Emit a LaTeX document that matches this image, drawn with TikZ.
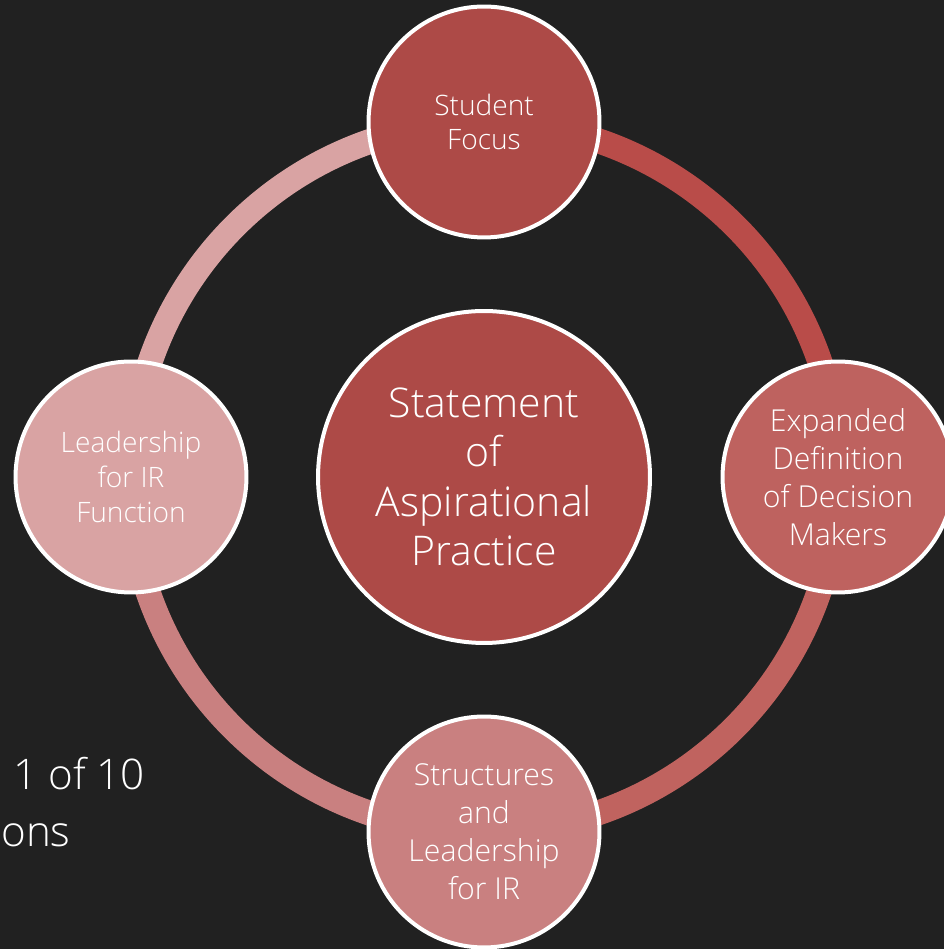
\documentclass[tikz,border=0pt]{standalone}
\usepackage{fontspec}
\setmainfont{Open Sans}[UprightFont=* Light]
\usetikzlibrary{positioning}

\definecolor{slidebg}{HTML}{212121}
\definecolor{redA}{HTML}{AD4A47}
\definecolor{redB}{HTML}{BE625F}
\definecolor{redC}{HTML}{C98080}
\definecolor{redD}{HTML}{D9A3A3}
\definecolor{arcA}{HTML}{B94C49}
\definecolor{arcB}{HTML}{C0635F}

\tikzset{
  bubble/.style={circle, draw=white, line width=0.08cm, text=white, align=center,
    minimum size=4.62cm, inner sep=0pt, font=\fontsize{16}{19.8}\selectfont},
  bigtext/.style={font=\fontsize{17.2}{21.6}\selectfont},
  ringarc/.style={line width=0.5cm}
}

\begin{document}
\begin{tikzpicture}[x=0.02cm, y=0.02cm]
    \fill[slidebg] (0,0) rectangle (944,949);
    \useasboundingbox (0,0) rectangle (944,949);

    % leftover slide text
    \node[anchor=base west, inner sep=0pt, text=white, font=\fontsize{24}{29}\selectfont] (count) at (13,159) {1 of 10};
    \node[anchor=base west, inner sep=0pt, text=white, font=\fontsize{24}{29}\selectfont] (ons) at (1,102) {ons};

    \coordinate (hub) at (484,472);
    \coordinate (topc) at (484,827);
    \coordinate (rightc) at (838,472);
    \coordinate (bottomc) at (484,117);
    \coordinate (leftc) at (131,472);

    % ring
    \draw[ringarc, arcA] (topc) arc[start angle=90, end angle=0, radius=355];
    \draw[ringarc, arcB] (rightc) arc[start angle=0, end angle=-90, radius=355];
    \draw[ringarc, redC] (bottomc) arc[start angle=-90, end angle=-180, radius=355];
    \draw[ringarc, redD] (leftc) arc[start angle=180, end angle=90, radius=355];

    % circles
    \node[bubble, fill=redA, minimum size=6.64cm, font=\fontsize{23.3}{28.2}\selectfont] (aspire) at (hub) {Statement\\of\\Aspirational\\Practice};
    \node[bubble, fill=redA] (student) at (topc) {Student\\Focus};
    \node[bubble, bigtext, fill=redB] (expanded) at (rightc) {Expanded\\Definition\\of Decision\\Makers};
    \node[bubble, bigtext, fill=redC] (structures) at (bottomc) {Structures\\and\\Leadership\\for IR};
    \node[bubble, fill=redD] (leadership) at (leftc) {Leadership\\for IR\\Function};
\end{tikzpicture}
\end{document}
